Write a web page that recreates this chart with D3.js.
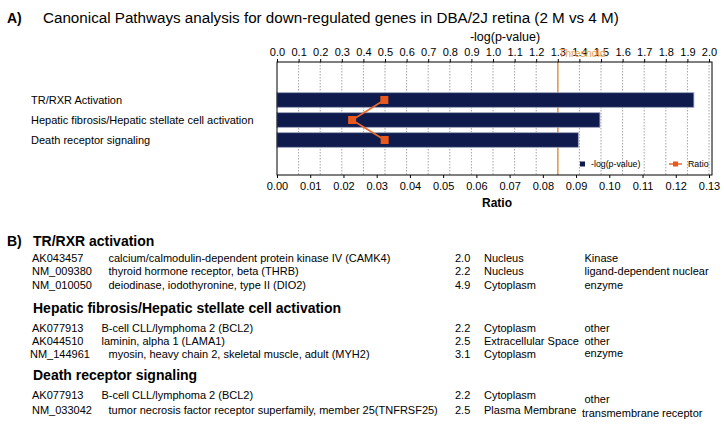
<!DOCTYPE html>
<html><head><meta charset="utf-8">
<script src="https://cdn.jsdelivr.net/npm/d3@7"></script>
<style>
html,body{margin:0;padding:0;background:#fff;}
svg{display:block;font-family:"Liberation Sans",Arial,Helvetica,sans-serif;}
</style></head>
<body>
<script>
// ---------- Data ----------
const categories = ["TR/RXR Activation", "Hepatic fibrosis/Hepatic stellate cell activation", "Death receptor signaling"];
const logP = [1.93, 1.495, 1.395];
const ratio = [0.0323, 0.0226, 0.0324];
const threshold = 1.3;
const topTicks = [0.0,0.1,0.2,0.3,0.4,0.5,0.6,0.7,0.8,0.9,1.0,1.1,1.2,1.3,1.4,1.5,1.6,1.7,1.8,1.9,2.0];
const bottomTicks = [0.00,0.01,0.02,0.03,0.04,0.05,0.06,0.07,0.08,0.09,0.10,0.11,0.12,0.13];

const pathwayHeadings = ["TR/RXR activation", "Hepatic fibrosis/Hepatic stellate cell activation", "Death receptor signaling"];
const geneIds = [["AK043457","NM_009380","NM_010050"],["AK077913","AK044510","NM_144961"],["AK077913","NM_033042"]];
const geneNames = [
  ["calcium/calmodulin-dependent protein kinase IV (CAMK4)","thyroid hormone receptor, beta (THRB)","deiodinase, iodothyronine, type II (DIO2)"],
  ["B-cell CLL/lymphoma 2 (BCL2)","laminin, alpha 1 (LAMA1)","myosin, heavy chain 2, skeletal muscle, adult (MYH2)"],
  ["B-cell CLL/lymphoma 2 (BCL2)","tumor necrosis factor receptor superfamily, member 25(TNFRSF25)"]
];
const foldChanges = [["2.0","2.2","4.9"],["2.2","2.5","3.1"],["2.2","2.5"]];
const locations = [["Nucleus","Nucleus","Cytoplasm"],["Cytoplasm","Extracellular Space","Cytoplasm"],["Cytoplasm","Plasma Membrane"]];
const types = [["Kinase","ligand-dependent nuclear","enzyme"],["other","other","enzyme"],["other","transmembrane receptor"]];

// ---------- Layout ----------
const W = 724, H = 425;
const plot = {l: 277, r: 712, t: 62, b: 175};
const svg = d3.select("body").append("svg").attr("width", W).attr("height", H);

const xTop = d3.scaleLinear().domain([0, 2.0]).range([277, 709]);
const xBot = d3.scaleLinear().domain([0, 0.13]).range([277, 709]);
const yPos = d3.scalePoint().domain(categories).range([100, 140]);
const barH = 14.6;

// Title
svg.append("text").attr("x", 7).attr("y", 23).attr("font-size", 14).attr("font-weight", "bold").text("A)");
svg.append("text").attr("x", 43).attr("y", 23).attr("font-size", 15.2)
  .text("Canonical Pathways analysis for down-regulated genes in DBA/2J retina (2 M vs 4 M)");

// gridlines
svg.append("g").selectAll("line").data(topTicks.filter(d => d > 0)).join("line")
  .attr("x1", d => xTop(d)).attr("x2", d => xTop(d))
  .attr("y1", plot.t).attr("y2", plot.b)
  .attr("stroke", "#8a8a8a").attr("stroke-width", 0.8).attr("stroke-dasharray", "1.5,1.5");

// threshold
svg.append("line").attr("x1", xTop(threshold)).attr("x2", xTop(threshold))
  .attr("y1", plot.t).attr("y2", plot.b).attr("stroke", "#ec9645").attr("stroke-width", 1.5);

// bars
svg.append("g").selectAll("rect").data(categories).join("rect")
  .attr("x", xTop(0)).attr("y", d => yPos(d) - barH / 2)
  .attr("width", (d, i) => xTop(logP[i]) - xTop(0)).attr("height", barH)
  .attr("fill", "#0f1b4c").attr("stroke", "#9aa3bd").attr("stroke-width", 0.8);

// frame
svg.append("rect").attr("x", plot.l).attr("y", plot.t).attr("width", plot.r - plot.l).attr("height", plot.b - plot.t)
  .attr("fill", "none").attr("stroke", "#000").attr("stroke-width", 1);

// axes
const gTop = svg.append("g").attr("transform", `translate(0,${plot.t})`)
  .call(d3.axisTop(xTop).tickValues(topTicks).tickFormat(d3.format(".1f")).tickSize(3).tickPadding(3));
gTop.select(".domain").remove();
gTop.selectAll("text").attr("font-size", 11).attr("font-family", "Liberation Sans, Arial, sans-serif").attr("fill", "#000");

const gBot = svg.append("g").attr("transform", `translate(0,${plot.b})`)
  .call(d3.axisBottom(xBot).tickValues(bottomTicks).tickFormat(d3.format(".2f")).tickSize(3).tickPadding(4));
gBot.select(".domain").remove();
gBot.selectAll("text").attr("font-size", 11).attr("font-family", "Liberation Sans, Arial, sans-serif").attr("fill", "#000");

// axis titles
svg.append("text").attr("x", 505).attr("y", 41).attr("text-anchor", "middle").attr("font-size", 12.5).text("-log(p-value)");
svg.append("text").attr("x", 497).attr("y", 207).attr("text-anchor", "middle").attr("font-size", 12).attr("font-weight", "bold").text("Ratio");
svg.append("text").attr("x", xTop(threshold) + 1).attr("y", 57).attr("font-size", 10.5).attr("fill", "#eea050").text("Threshold");

// ratio line + markers
const line = d3.line().x((d, i) => xBot(ratio[i])).y(d => yPos(d));
svg.append("path").datum(categories).attr("d", line).attr("fill", "none").attr("stroke", "#e8692a").attr("stroke-width", 1.6);
svg.append("g").selectAll("rect").data(categories).join("rect")
  .attr("x", (d, i) => xBot(ratio[i]) - 4).attr("y", d => yPos(d) - 4).attr("width", 8).attr("height", 8)
  .attr("fill", "#e8581c");

// category labels
svg.append("g").selectAll("text").data(categories).join("text")
  .attr("x", 31).attr("y", d => yPos(d) + 4).attr("font-size", 11).text(d => d);

// legend
svg.append("rect").attr("x", 580).attr("y", 161.5).attr("width", 5).attr("height", 5).attr("fill", "#0f1b4c");
svg.append("text").attr("x", 591).attr("y", 167).attr("font-size", 8.8).text("-log(p-value)");
svg.append("line").attr("x1", 669).attr("x2", 682).attr("y1", 164).attr("y2", 164).attr("stroke", "#e8692a").attr("stroke-width", 1.5);
svg.append("rect").attr("x", 673).attr("y", 161.5).attr("width", 5).attr("height", 5).attr("fill", "#e8581c");
svg.append("text").attr("x", 688).attr("y", 167).attr("font-size", 8.8).text("Ratio");

// ---------- Section B ----------
svg.append("text").attr("x", 7).attr("y", 245.5).attr("font-size", 14).attr("font-weight", "bold").text("B)");
const headY = [245.5, 312.5, 379.5];
const rowY = [[262, 275, 289], [332, 344.5, 358], [398.5, 413.5]];
const idX = [[32, 32, 32], [32, 32, 30], [32, 32]];
const nameX = [[108.5, 108.5, 108.5], [101.5, 101.5, 108.5], [101.5, 108.5]];
const typeY = [[262, 275, 289], [332, 344.5, 356.5], [403, 417]];

pathwayHeadings.forEach((h, s) => {
  svg.append("text").attr("x", 33).attr("y", headY[s]).attr("font-size", 14).attr("font-weight", "bold").text(h);
  geneIds[s].forEach((id, r) => {
    const y = rowY[s][r];
    svg.append("text").attr("x", idX[s][r]).attr("y", y).attr("font-size", 11).text(id);
    svg.append("text").attr("x", nameX[s][r]).attr("y", y).attr("font-size", 11).text(geneNames[s][r]);
    svg.append("text").attr("x", 455).attr("y", y).attr("font-size", 11).text(foldChanges[s][r]);
    svg.append("text").attr("x", 484).attr("y", y).attr("font-size", 11).text(locations[s][r]);
    svg.append("text").attr("x", s === 2 && r === 1 ? 582 : 584.5).attr("y", typeY[s][r]).attr("font-size", 11).text(types[s][r]);
  });
});
</script>
</body></html>
